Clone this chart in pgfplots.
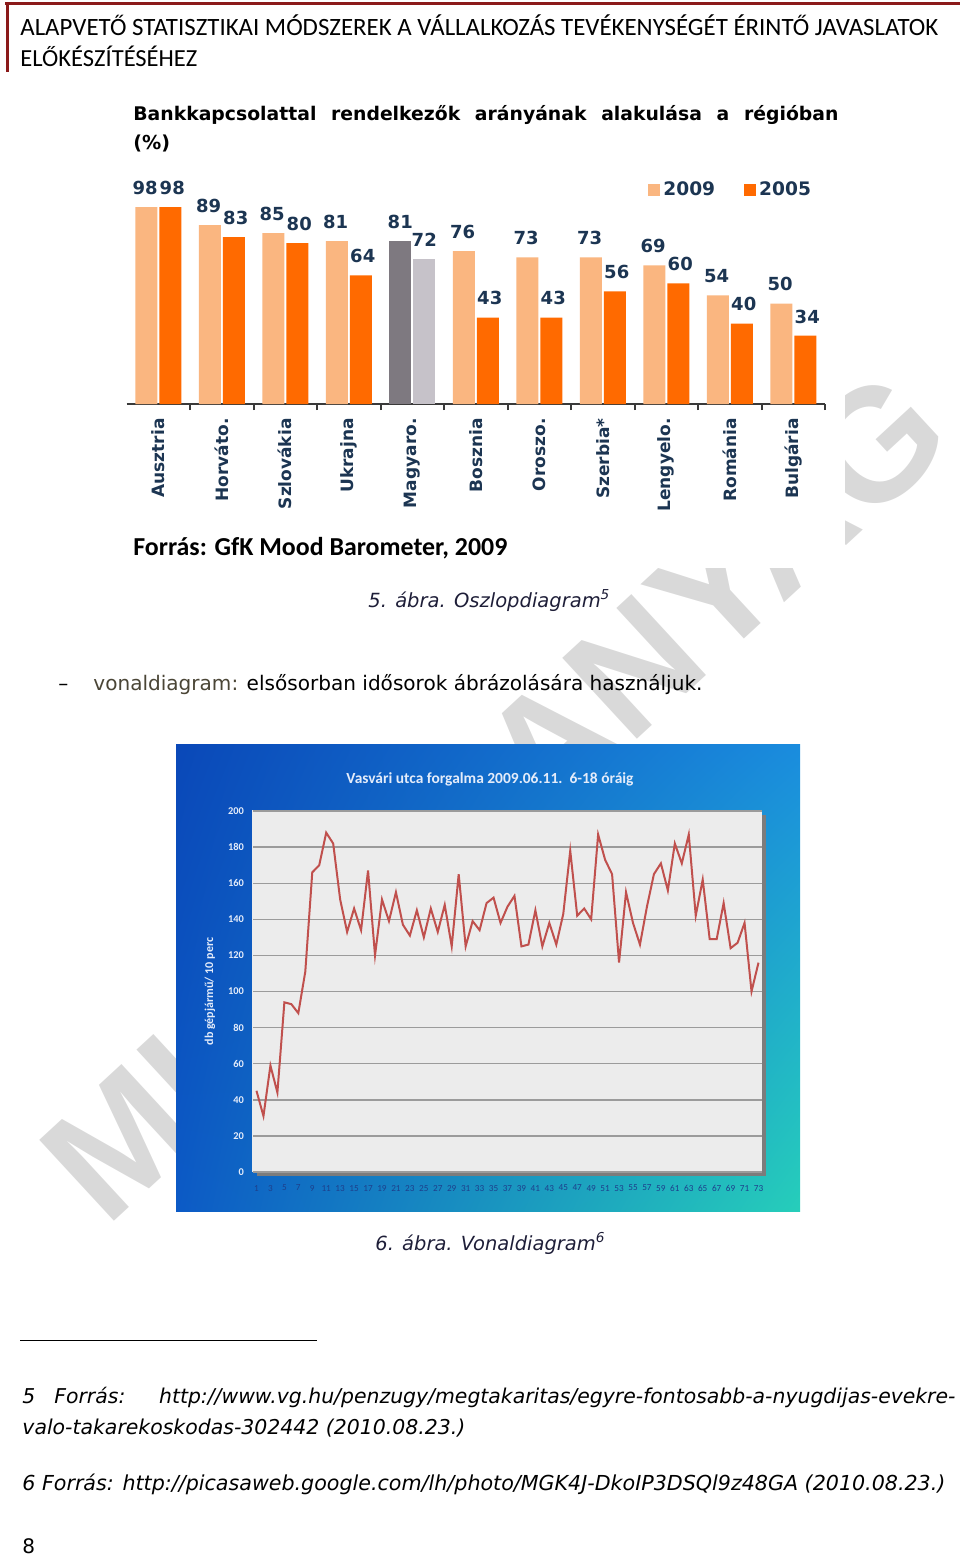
\documentclass[border=0pt]{standalone}
\usepackage{fontspec}
\setmainfont{DejaVu Sans}
\newfontfamily\carlito{Carlito}
\newfontfamily\libsans{Liberation Sans}
\usepackage{graphicx}
\usepackage{pgfplots}
\pgfplotsset{compat=1.18}
\usetikzlibrary{shadings}
\definecolor{hdrred}{HTML}{8B1A1A}
\definecolor{cnine}{HTML}{FAB680}
\definecolor{cfive}{HTML}{FF6A00}
\definecolor{hugnine}{HTML}{7E7980}
\definecolor{hugfive}{HTML}{C6C2C9}
\definecolor{navy}{HTML}{1C3552}
\definecolor{linered}{HTML}{C0504D}
\definecolor{wm}{HTML}{D9D9D9}
\definecolor{olivegray}{HTML}{4A4536}
\definecolor{capcol}{HTML}{1E1E38}
\definecolor{lighttxt}{HTML}{E4ECFA}
\definecolor{xtickcol}{HTML}{1D3F8C}
\definecolor{gridc}{HTML}{9B9B9B}
\definecolor{plotbg}{HTML}{ECECEC}
\definecolor{shadowc}{HTML}{7C7C7C}
\definecolor{axisc}{HTML}{3A3A3A}
\definecolor{bgul}{HTML}{0A48B8}
\definecolor{bgur}{HTML}{1A8CDE}
\definecolor{bgll}{HTML}{0C5AC6}
\definecolor{bglr}{HTML}{26CEBA}
\pgfplotsset{/pgf/number format/assume math mode=true}
\begin{document}
\begin{tikzpicture}[x=0.5pt,y=-0.5pt]
\useasboundingbox (0,0) rectangle (960,1558);
% watermark
\node[rotate=42.7, text=wm, font=\libsans\bfseries\fontsize{80}{80}\selectfont] at (495,795) {MUNKAANYAG};
% header
\draw[hdrred, line width=1.5pt] (5,3) -- (960,3);
\draw[hdrred, line width=1.5pt] (7,2.3) -- (7,72);
\node[anchor=base west, inner sep=0pt] at (20,35) {\resizebox{459pt}{!}{\carlito ALAPVETŐ STATISZTIKAI MÓDSZEREK A VÁLLALKOZÁS TEVÉKENYSÉGÉT ÉRINTŐ JAVASLATOK}};
\node[anchor=base west, inner sep=0pt] at (20,66) {\resizebox{88.5pt}{!}{\carlito ELŐKÉSZÍTÉSÉHEZ}};
% bar chart image background
\fill[white] (120,92) rectangle (845,568);
\node[anchor=base west, inner sep=0pt, font=\bfseries\fontsize{9.4}{11}\selectfont] at (133,120) {\makebox[352.5pt][s]{Bankkapcsolattal rendelkezők arányának alakulása a régióban}};
\node[anchor=base west, inner sep=0pt, font=\bfseries\fontsize{9.6}{11}\selectfont] at (133,149) {(\%)};
\node[anchor=base west, inner sep=0pt] at (133,555) {\resizebox{187pt}{!}{\carlito\bfseries Forrás: GfK Mood Barometer, 2009}};
% caption 5
\node[anchor=base west, inner sep=0pt, text=capcol] at (368,607) {\resizebox{121pt}{!}{\itshape 5. ábra. Oszlopdiagram\textsuperscript{5}}};
% body line
\node[anchor=base west, inner sep=0pt, font=\fontsize{10}{12}\selectfont] at (58,690) {–};
\node[anchor=base west, inner sep=0pt] at (93,690) {\resizebox{304.5pt}{!}{\textcolor{olivegray}{vonaldiagram:} elsősorban idősorok ábrázolására használjuk.}};
% line chart image
\shade[upper left=bgul, upper right=bgur, lower left=bgll, lower right=bglr] (176,744) rectangle (800,1211);
\fill[shadowc] (257,815) rectangle (766,1176);
\fill[plotbg] (253,811) rectangle (762,1172);
\draw[white!85!gray, line width=0.6pt] (253,1172) -- (253,811) -- (762,811);
\node[text=lighttxt] at (490,779) {\resizebox{143.5pt}{!}{\carlito\bfseries Vasvári utca forgalma 2009.06.11.\ \ 6-18 óráig}};
\begin{axis}[
  at={(126.5pt,-586pt)}, anchor=south west, scale only axis,
  width=254.5pt, height=180.5pt,
  xmin=0.5, xmax=73.5, ymin=0, ymax=200,
  ytick={0,20,...,200}, xtick={1,3,...,73},
  ymajorgrids, grid style={draw=gridc, line width=0.7pt},
  axis line style={draw=none}, major tick length=0pt,
  yticklabel style={font=\carlito\bfseries\fontsize{5.2}{6}\selectfont, text=lighttxt, xshift=-1pt},
  xticklabel style={font=\carlito\fontsize{4.6}{5}\selectfont, text=xtickcol, yshift=-3pt},
  ylabel={db gépjármű/ 10 perc},
  ylabel style={at={(axis description cs:-0.0845,0.5)}, anchor=center, font=\carlito\bfseries\fontsize{6}{7}\selectfont, text=lighttxt},
  clip=false,
]
\addplot[linered, line width=1pt, mark=none] coordinates {
(1,45) (2,31) (3,59) (4,44) (5,94) (6,93) (7,88) (8,111) (9,166) (10,170)
(11,188) (12,182) (13,151) (14,133) (15,146) (16,134) (17,167) (18,120) (19,151) (20,139)
(21,155) (22,137) (23,131) (24,145) (25,130) (26,146) (27,133) (28,148) (29,125) (30,165)
(31,125) (32,139) (33,134) (34,149) (35,152) (36,138) (37,147) (38,153) (39,125) (40,126)
(41,145) (42,125) (43,138) (44,126) (45,143) (46,178) (47,142) (48,146) (49,140) (50,187)
(51,173) (52,165) (53,116) (54,155) (55,138) (56,126) (57,147) (58,165) (59,171) (60,156)
(61,182) (62,171) (63,187) (64,142) (65,162) (66,129) (67,129) (68,149) (69,124) (70,127)
(71,138) (72,100) (73,116)};
\end{axis}
% bar chart
\begin{axis}[
  at={(63.25pt,-202pt)}, anchor=south west, scale only axis,
  width=349.25pt, height=100.5pt,
  ybar, bar width=11pt,
  xmin=-0.5, xmax=10.5, ymin=0, ymax=100,
  axis y line=none, axis x line*=bottom,
  x axis line style={draw=axisc, line width=1pt},
  xtick={0,...,10},
  xticklabels={Ausztria,Horváto.,Szlovákia,Ukrajna,Magyaro.,Bosznia,Oroszo.,Szerbia*,Lengyelo.,Románia,Bulgária},
  minor xtick={0.5,1.5,...,10.5},
  major tick length=0pt, minor tick length=3pt, tick align=outside,
  minor tick style={draw=axisc, line width=1pt},
  xticklabel shift=7pt,
  xticklabel style={rotate=90, anchor=east, inner sep=0pt, font=\bfseries\fontsize{8.5}{9}\selectfont, text=navy},
  nodes near coords,
  every node near coord/.append style={font=\bfseries\fontsize{9}{10}\selectfont, text=navy, inner sep=0pt, yshift=6pt},
  clip=false,
  legend columns=2,
  legend image code/.code={\fill[#1, draw=none] (0pt,-3pt) rectangle (6pt,3pt);},
  legend style={at={(0.7466,1.0647)}, anchor=west, draw=none, fill=none, inner sep=0pt,
    font=\bfseries\fontsize{9.3}{10}\selectfont, text=navy,
    nodes={inner sep=1.5pt},
    /tikz/every even column/.append style={column sep=13pt}},
]
\addplot[fill=cnine, draw=none, bar shift=-6pt, every node near coord/.append style={xshift=-0.6pt}] coordinates {(0,98) (1,89) (2,85) (3,81) (5,76) (6,73) (7,73) (8,69) (9,54) (10,50)};
\addlegendentry{2009}
\addplot[fill=cfive, draw=none, bar shift=6pt, every node near coord/.append style={xshift=1pt}] coordinates {(0,98) (1,83) (2,80) (3,64) (5,43) (6,43) (7,56) (8,60) (9,40) (10,34)};
\addlegendentry{2005}
\addplot[fill=hugnine, draw=none, bar shift=-6pt, forget plot] coordinates {(4,81)};
\addplot[fill=hugfive, draw=none, bar shift=6pt, forget plot] coordinates {(4,72)};
\end{axis}
% caption 6
\node[anchor=base west, inner sep=0pt, text=capcol] at (375,1250) {\resizebox{115pt}{!}{\itshape 6. ábra. Vonaldiagram\textsuperscript{6}}};
% footnotes
\draw[black, line width=0.5pt] (20,1340) -- (317,1340);
\node[anchor=base west, inner sep=0pt, font=\itshape\fontsize{10.2}{12}\selectfont] at (22,1403) {\makebox[466.5pt][s]{5 Forrás: http://www.vg.hu/penzugy/megtakaritas/egyre-fontosabb-a-nyugdijas-evekre-}};
\node[anchor=base west, inner sep=0pt] at (22,1434) {\resizebox{221.5pt}{!}{\itshape valo-takarekoskodas-302442 (2010.08.23.)}};
\node[anchor=base west, inner sep=0pt] at (22,1490) {\resizebox{461.5pt}{!}{\itshape 6 Forrás: http://picasaweb.google.com/lh/photo/MGK4J-DkoIP3DSQl9z48GA (2010.08.23.)}};
\node[anchor=base west, inner sep=0pt, font=\fontsize{10}{12}\selectfont] at (22,1553) {8};
\end{tikzpicture}
\end{document}
